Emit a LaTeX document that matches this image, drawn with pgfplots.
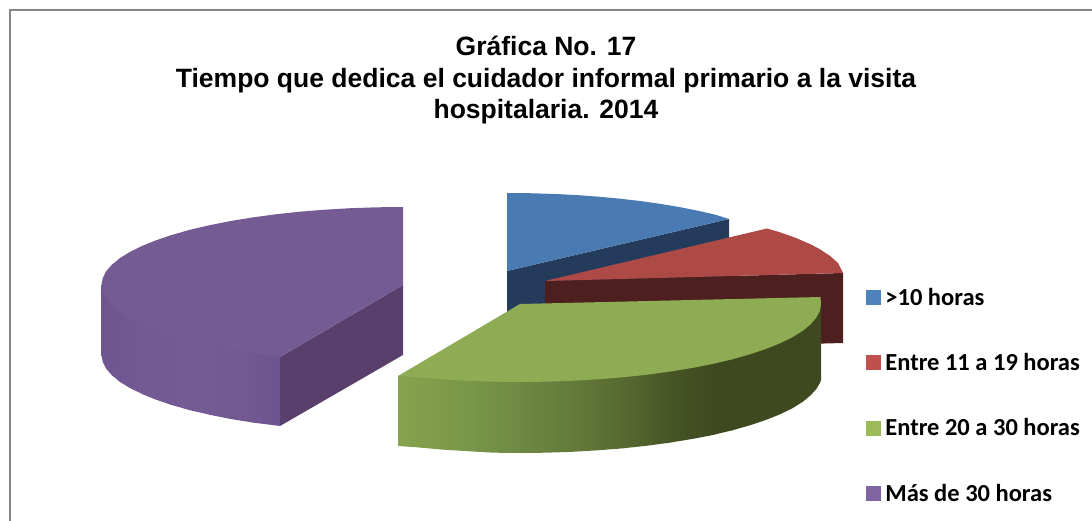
\documentclass[border=0pt]{standalone}
\usepackage{fontspec}
\usepackage{pgfplots}
\pgfplotsset{compat=1.18}
\newfontfamily\liberation{Liberation Sans}
\newfontfamily\carlito{Carlito}
\definecolor{cblue}{HTML}{4F81BD}
\definecolor{cred}{HTML}{C0504D}
\definecolor{cgreen}{HTML}{9BBB59}
\definecolor{cpurple}{HTML}{8064A2}
\definecolor{tblue}{HTML}{4A7AB2}
\definecolor{wblue}{HTML}{253B5B}
\definecolor{tred}{HTML}{AE4A46}
\definecolor{wred}{HTML}{4D1F1E}
\definecolor{tgreen}{HTML}{8EAC54}
\definecolor{tpurple}{HTML}{755B93}
\definecolor{wpurple}{HTML}{59406C}
\definecolor{framegray}{HTML}{868686}
\definecolor{ga}{RGB}{134,163,79}
\definecolor{gb}{RGB}{130,159,76}
\definecolor{gc}{RGB}{120,151,72}
\definecolor{gd}{RGB}{110,137,68}
\definecolor{ge}{RGB}{100,123,57}
\definecolor{gf}{RGB}{87,105,48}
\definecolor{gg}{RGB}{71,85,37}
\definecolor{gh}{RGB}{62,73,32}
\definecolor{pa}{RGB}{111,85,144}
\definecolor{pb}{RGB}{116,90,148}
\definecolor{pc}{RGB}{117,91,148}
\definecolor{pd}{RGB}{114,88,145}
\definecolor{pe}{RGB}{110,84,144}
\begin{document}
\begin{tikzpicture}
\begin{axis}[
  scale only axis, width=1092pt, height=521pt,
  xmin=0, xmax=1092, ymin=0, ymax=521, y dir=reverse,
  hide axis,
  title={Gráfica No. 17\\Tiempo que dedica el cuidador informal primario a la visita\\hospitalaria. 2014},
  title style={at={(0.5,0.834)}, anchor=center, align=center,
    font=\liberation\bfseries\fontsize{26.5}{31.5}\selectfont, inner sep=0pt},
  legend style={at={(axis cs:866,286)}, anchor=north west, draw=none, fill=none,
    inner sep=0pt, outer sep=0pt, row sep=42.6pt,
    font=\carlito\bfseries\fontsize{24.5}{29}\selectfont},
  legend cell align=left,
]
% full-page extent
\addplot[draw=none, forget plot] coordinates {(0,0) (1092,521)};
% frame
\addplot[framegray, line width=2pt, forget plot] coordinates {(10,521) (10,10) (1092,10)};
% blue slice
\addplot[fill=wblue, draw=none, forget plot] coordinates {(507,271) (729,219) (729,289) (507,341) (507,271)};
\addplot[fill=tblue, draw=none, forget plot] coordinates {(507,193) (525,193.1) (543,193.6) (560,194.2) (580,195.3) (600,196.8) (620,198.7) (640,201) (660,203.8) (680,207.2) (700,211.2) (715,214.6) (729,219) (507,271) (507,193)};
% red slice
\addplot[fill=wred, draw=none, forget plot] coordinates {(545,281) (843,273) (843,343) (545,351) (545,281)};
\addplot[fill=tred, draw=none, forget plot] coordinates {(545,281) (767,228.5) (780,232.3) (795,237.6) (810,244) (820,249.3) (830,255.9) (838,263) (843,273) (545,281)};
% green slice: wall, left to right
\addplot[draw=none, left color=ga, right color=gb, forget plot] coordinates {(398,376) (417.5,374) (417.5,447.3) (398,446) (398,376)};
\addplot[draw=none, left color=gb, right color=gc, forget plot] coordinates {(417,374) (468.2,377) (468.2,451.2) (442.1,449.6) (417,447.3) (417,374)};
\addplot[draw=none, left color=gc, right color=gd, forget plot] coordinates {(467.7,377) (520.5,378) (520.5,453) (493.8,452.7) (467.7,451.2) (467.7,377)};
\addplot[draw=none, left color=gd, right color=ge, forget plot] coordinates {(520,378) (572.8,377) (572.8,451.8) (546.2,452.7) (520,453) (520,378)};
\addplot[draw=none, left color=ge, right color=gf, forget plot] coordinates {(572.3,377) (623.5,374) (623.5,448.3) (597.9,450.3) (572.3,451.8) (572.3,377)};
\addplot[draw=none, left color=gf, right color=gg, forget plot] coordinates {(623,374) (671,368) (671,442.5) (647.2,445.7) (623,448.3) (623,374)};
\addplot[draw=none, left color=gg, right color=gh, forget plot] coordinates {(670.5,368) (714,360) (714,434.8) (692.6,438.9) (670.5,442.5) (670.5,368)};
\addplot[fill=gh, draw=none, forget plot] coordinates {(713.5,360) (750.6,350) (780.7,339) (802.9,327) (816.4,314) (821,304) (821,380) (819.9,383) (816.4,389) (810.7,395.2) (802.9,401.7) (792.8,408) (780.7,414) (766.6,419.7) (750.6,425.1) (732.8,430.2) (713.5,434.8) (713.5,360)};
\addplot[fill=tgreen, draw=none, forget plot] coordinates {(520,304) (820.5,297) (821,304) (819.9,310.8) (816.4,317.5) (810.7,324.2) (802.9,330.7) (792.8,337) (780.7,343) (766.6,348.7) (750.6,354.1) (732.8,359.2) (713.5,363.8) (692.6,367.9) (670.5,371.5) (647.2,374.7) (623,377.3) (597.9,379.3) (572.3,380.8) (546.2,381.7) (520,382) (493.8,381.7) (467.7,380.8) (442.1,379.3) (417,377.3) (398,376) (520,304)};
% purple slice: wall, left to right
\addplot[draw=none, left color=pa, right color=pb, forget plot] coordinates {(101.5,285) (119.7,305) (142.4,318) (142.4,394) (129.8,388) (119.7,381.7) (111.8,375.2) (106,368.5) (102.7,361.8) (101.5,355) (101.5,285)};
\addplot[draw=none, left color=pb, right color=pc, forget plot] coordinates {(141.9,318) (172,331) (209.7,340) (209.7,414.7) (189.8,410.2) (172,405.1) (156,399.7) (141.9,394) (141.9,318)};
\addplot[draw=none, left color=pc, right color=pd, forget plot] coordinates {(209.2,340) (252.7,348) (252.7,422.5) (230,418.9) (209.2,414.7) (209.2,340)};
\addplot[draw=none, left color=pd, right color=pe, forget plot] coordinates {(252.2,348) (280,353) (280,426) (252.2,422.5) (252.2,348)};
\addplot[fill=wpurple, draw=none, forget plot] coordinates {(280,357) (403,285) (403,355) (280,426) (280,357)};
\addplot[fill=tpurple, draw=none, forget plot] coordinates {(403,207) (376.7,207.3) (350.6,208.2) (324.9,209.7) (299.9,211.7) (275.6,214.3) (252.2,217.5) (230,221.1) (209.2,225.3) (189.8,229.8) (172,234.9) (156,240.3) (141.9,246) (129.8,252) (119.7,258.3) (111.8,264.8) (106,271.4) (102.7,278.2) (101.5,285) (102.7,291.8) (106,298.5) (111.8,305.2) (119.7,311.7) (129.8,318) (141.9,324) (156,329.7) (172,335.1) (189.8,340.2) (209.2,344.7) (230,348.9) (252.2,352.5) (280,357) (403,285) (403,207)};
% legend
\addlegendimage{legend image code/.code={\fill[cblue] (0pt,-7pt) rectangle (14pt,7pt); \path (17pt,0pt);}}
\addlegendentry{>10 horas}
\addlegendimage{legend image code/.code={\fill[cred] (0pt,-7pt) rectangle (14pt,7pt); \path (17pt,0pt);}}
\addlegendentry{Entre 11 a 19 horas}
\addlegendimage{legend image code/.code={\fill[cgreen] (0pt,-7pt) rectangle (14pt,7pt); \path (17pt,0pt);}}
\addlegendentry{Entre 20 a 30 horas}
\addlegendimage{legend image code/.code={\fill[cpurple] (0pt,-7pt) rectangle (14pt,7pt); \path (17pt,0pt);}}
\addlegendentry{Más de 30 horas}
\end{axis}
\end{tikzpicture}
\end{document}
